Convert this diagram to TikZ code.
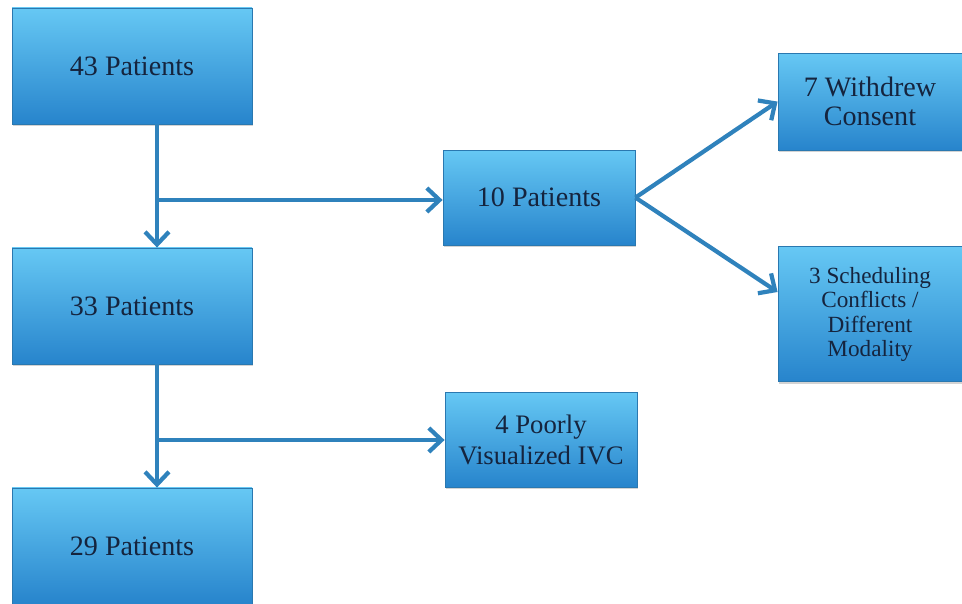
\documentclass[tikz,border=0pt]{standalone}
\usepackage{fontspec}
\setmainfont{Liberation Serif}
\usepackage{tikz}
\usetikzlibrary{calc,positioning,arrows.meta,shadows}
\definecolor{boxtop}{HTML}{66C8F4}
\definecolor{boxbot}{HTML}{2784CC}
\definecolor{boxedge}{HTML}{2A78B0}
\definecolor{flowline}{HTML}{2F82BC}
\definecolor{boxtext}{HTML}{15243E}

\begin{document}
\begin{tikzpicture}[>={Straight Barb[length=9pt,width=17pt]},
                    stage/.style={rectangle,draw=boxedge,line width=0.6pt,
                      top color=boxtop,bottom color=boxbot,
                      drop shadow={shadow xshift=0.6pt,shadow yshift=-1.5pt,opacity=0.35},
                      text=boxtext,align=center,font=\fontsize{20}{24}\selectfont,
                      inner sep=2pt},
                    flow/.style={draw=flowline,line width=3pt}]

  \useasboundingbox (0,0) rectangle (24.05,15.1);

  \node[stage,minimum width=6cm,minimum height=2.9cm] at(3.3,13.45) (p43) {43 Patients};
  \node[stage,minimum width=6cm,minimum height=2.9cm] at(3.3,7.45) (p33) {33 Patients};
  \node[stage,minimum width=6cm,minimum height=2.9cm] at(3.3,1.45) (p29) {29 Patients};
  \node[stage,minimum width=4.8cm,minimum height=2.375cm] at(13.475,10.16) (p10) {10 Patients};
  \node[stage,minimum width=4.8cm,minimum height=2.375cm,
        font=\fontsize{19}{22}\selectfont] at(13.525,4.11) (ivc) {4 Poorly\\Visualized IVC};
  \node[stage,minimum width=4.6cm,minimum height=2.425cm,
        font=\fontsize{20}{21}\selectfont] at(21.75,12.56) (wdc) {7 Withdrew\\Consent};
  \node[stage,minimum width=4.6cm,minimum height=3.375cm,
        font=\fontsize{16.5}{17.2}\selectfont] at(21.75,7.24) (sch) {3 Scheduling\\Conflicts /\\Different\\Modality};

  \coordinate (jn1) at (3.925,10.1);
  \coordinate (jn2) at (3.925,4.1);

  % main column
  \draw[flow,->] (p43.south -| jn1) -- (p33.north -| jn1);
  \draw[flow,->] (p33.south -| jn2) -- (p29.north -| jn2);

  % side branches
  \draw[flow,->] (jn1) -- (jn1 -| p10.west);
  \draw[flow,->] (jn2) -- (jn2 -| ivc.west);
  \draw[flow,->] (p10.east) -- (wdc.west);
  \draw[flow,->] (p10.east) -- ($(sch.west)+(0,0.56)$);

\end{tikzpicture}
\end{document}
